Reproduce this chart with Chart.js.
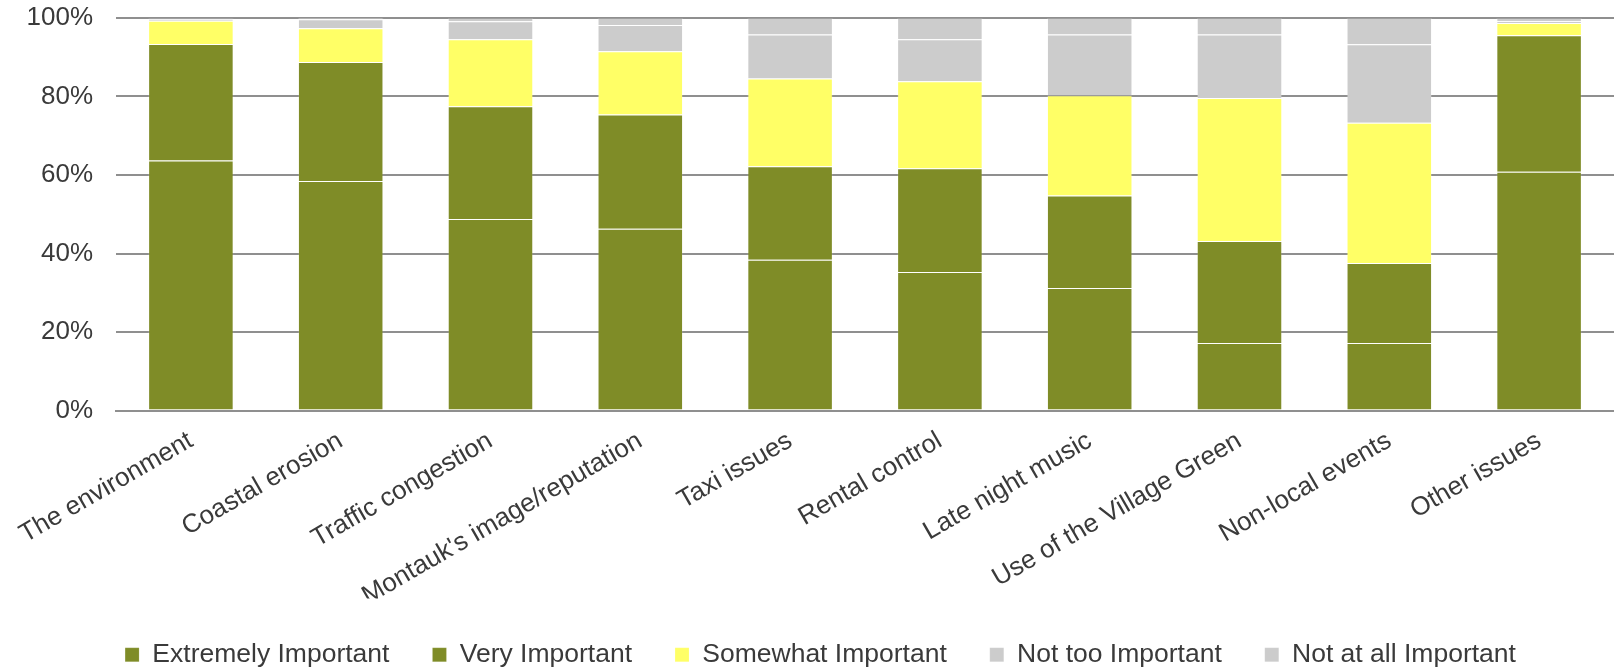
<!DOCTYPE html>
<html>
<head>
<meta charset="utf-8">
<script src="https://cdn.jsdelivr.net/npm/chart.js@4"></script>
<style>
  body { margin: 0; background: #fff; }
  #wrap { width: 1614px; height: 672px; }
</style>
</head>
<body>
<div id="wrap"><canvas id="importance"></canvas></div>
<script>
const issues = ['The environment', 'Coastal erosion', 'Traffic congestion', "Montauk's image/reputation", 'Taxi issues', 'Rental control', 'Late night music', 'Use of the Village Green', 'Non-local events', 'Other issues'];

// percent of respondents
const extremely = [63.7, 58.5, 48.8, 46.3, 38.4, 35.3, 31.2, 17.2, 17.2, 60.8];
const very      = [29.7, 30.3, 28.7, 29.1, 23.8, 26.4, 23.6, 26.0, 20.4, 34.8];
const somewhat  = [5.9, 8.6, 17.1, 16.1, 22.4, 22.2, 25.5, 36.4, 35.7, 3.1];
const notToo    = [0.5, 2.3, 4.6, 6.7, 11.2, 10.7, 15.5, 16.2, 20.0, 0.5];
const notAtAll  = [0.2, 0.3, 0.8, 1.8, 4.2, 5.4, 4.2, 4.2, 6.7, 0.8];

const yTicks = [0, 20, 40, 60, 80, 100];

const olive = '#7f8c27';
const yellow = '#ffff66';
const grey = '#cccccc';
const edge = 'rgba(255,255,255,0.14)';
const textColor = '#3a3a3a';
const font = { family: "'Liberation Sans', Arial, sans-serif", size: 26 };

function series(label, data, color) {
    return {
        label: label,
        data: data,
        backgroundColor: color,
        borderColor: edge,
        borderWidth: 1,
        borderSkipped: 'start',
        categoryPercentage: 1,
        barPercentage: 0.571
    };
}

new Chart(document.getElementById('importance').getContext('2d'), {
    type: 'bar',
    data: {
        labels: issues,
        datasets: [
            series('Extremely Important', extremely, olive),
            series('Very Important', very, olive),
            series('Somewhat Important', somewhat, yellow),
            series('Not too Important', notToo, grey),
            series('Not at all Important', notAtAll, grey)
        ]
    },
    options: {
        responsive: true,
        maintainAspectRatio: false,
        animation: false,
        layout: { padding: { left: 27, right: 0, top: 18, bottom: -6 } },
        plugins: {
            tooltip: { enabled: false },
            legend: {
                position: 'bottom',
                labels: {
                    color: textColor,
                    font: { family: font.family, size: 26.5 },
                    boxWidth: 14,
                    boxHeight: 14,
                    padding: 43
                }
            }
        },
        scales: {
            x: {
                stacked: true,
                grid: { display: false, drawTicks: false },
                border: { color: '#8f8f8f', width: 2 },
                ticks: {
                    color: textColor,
                    font: font,
                    autoSkip: false,
                    minRotation: 30,
                    maxRotation: 30,
                    padding: 15
                },
                afterFit: (scale) => {
                    scale.height = 188;
                    scale.paddingLeft = 0;
                    scale.paddingRight = 0;
                }
            },
            y: {
                stacked: true,
                min: 0,
                max: 100,
                afterBuildTicks: (scale) => {
                    scale.ticks = yTicks.map(v => ({ value: v }));
                },
                grid: { color: '#8f8f8f', lineWidth: 2, drawTicks: false },
                border: { display: false },
                ticks: {
                    color: textColor,
                    font: font,
                    padding: 23,
                    callback: (v) => v + '%'
                },
                afterFit: (scale) => {
                    scale.width = 89;
                    scale.paddingTop = 0;
                    scale.paddingBottom = 0;
                }
            }
        }
    }
});
</script>
</body>
</html>
